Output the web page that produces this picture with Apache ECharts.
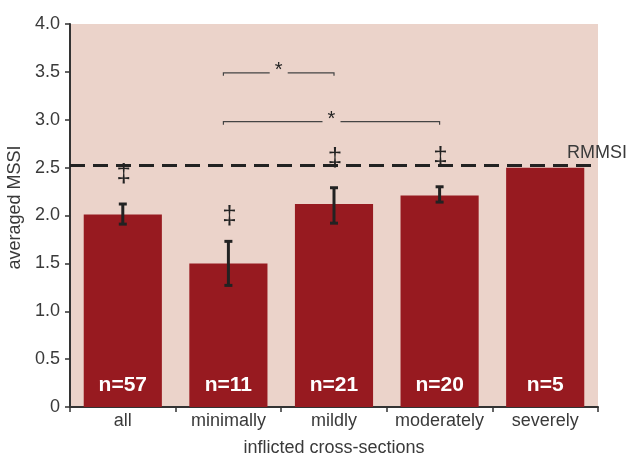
<!DOCTYPE html>
<html>
<head>
<meta charset="utf-8">
<script src="https://cdn.jsdelivr.net/npm/echarts@6/dist/echarts.min.js"></script>
<style>
  html, body { margin: 0; padding: 0; background: #fff; }
  #chart { width: 630px; height: 455px; }
</style>
</head>
<body>
<div id="chart"></div>
<script>
// data
const categories = ['all', 'minimally', 'mildly', 'moderately', 'severely'];
const meanMSSI = [2.01, 1.50, 2.12, 2.21, 2.50];
const errLow = [1.91, 1.27, 1.92, 2.14, null];
const errHigh = [2.12, 1.73, 2.29, 2.30, null];
const nLabels = ['n=57', 'n=11', 'n=21', 'n=20', 'n=5'];
const daggerY = [2.42, 1.99, 2.59, 2.60, null];
const rmmsi = 2.52;
// significance brackets: [from category, to category, y value]
const brackets = [[1, 2, 3.49], [1, 3, 2.98]];

const BAR = '#971a20';
const INK = '#222';
const TXT = '#3a3a3a';
const FONT = '"Liberation Sans", Arial, sans-serif';

const chart = echarts.init(document.getElementById('chart'), null, { renderer: 'canvas' });

const errData = [];
const dagData = [];
for (let i = 0; i < categories.length; i++) {
  if (errLow[i] != null) errData.push([i, errLow[i], errHigh[i]]);
  if (daggerY[i] != null) dagData.push([i, daggerY[i]]);
}

const option = {
  animation: false,
  grid: {
    left: 70, right: 32, top: 24, bottom: 48,
    outerBoundsMode: 'none',
    containLabel: false,
    show: true, backgroundColor: '#ebd3ca', borderWidth: 0
  },
  xAxis: {
    type: 'category',
    data: categories,
    name: 'inflicted cross-sections',
    nameLocation: 'middle',
    nameGap: 32,
    nameTextStyle: { fontFamily: FONT, fontSize: 18, color: TXT },
    axisLine: { lineStyle: { color: '#333', width: 2 } },
    axisTick: { show: true, length: 5, lineStyle: { color: '#333', width: 1.5 } },
    axisLabel: { fontFamily: FONT, fontSize: 18, color: TXT, margin: 5, interval: 0, hideOverlap: false }
  },
  yAxis: {
    type: 'value',
    min: 0, max: 4, interval: 0.5,
    name: 'averaged MSSI',
    nameLocation: 'middle',
    nameGap: 43,
    nameTextStyle: { fontFamily: FONT, fontSize: 18, color: TXT, padding: [0, 0, 0, 16] },
    axisLine: { show: true, lineStyle: { color: '#333', width: 2 } },
    axisTick: { show: true, length: 5, lineStyle: { color: '#333', width: 1.5 } },
    splitLine: { show: false },
    axisLabel: {
      fontFamily: FONT, fontSize: 18, color: TXT, margin: 10,
      formatter: v => (v === 0 ? '0' : v.toFixed(1))
    }
  },
  series: [
    {
      type: 'bar',
      data: meanMSSI,
      barWidth: '74%',
      itemStyle: { color: BAR },
      label: {
        show: true,
        position: 'insideBottom',
        distance: 11,
        formatter: p => nLabels[p.dataIndex],
        color: '#fff',
        fontFamily: '"Liberation Sans Narrow", "Liberation Sans", sans-serif',
        fontWeight: 'bold',
        fontSize: 21
      },
      markLine: {
        symbol: 'none',
        silent: true,
        lineStyle: { color: INK, type: [15, 8], width: 3 },
        label: {
          show: true,
          position: 'insideEndTop',
          formatter: 'RMMSI',
          fontFamily: FONT, fontSize: 18, color: TXT,
          offset: [34, 1]
        },
        data: [{ yAxis: rmmsi }]
      },
      z: 2
    },
    {
      type: 'custom',
      data: errData,
      encode: { x: 0, y: [1, 2] },
      z: 5,
      renderItem: function (params, api) {
        const lo = api.coord([api.value(0), api.value(1)]);
        const hi = api.coord([api.value(0), api.value(2)]);
        const cap = 4;
        const style = { stroke: INK, lineWidth: 3 };
        return {
          type: 'group',
          children: [
            { type: 'line', shape: { x1: lo[0], y1: lo[1], x2: hi[0], y2: hi[1] }, style: style },
            { type: 'line', shape: { x1: lo[0] - cap, y1: lo[1], x2: lo[0] + cap, y2: lo[1] }, style: style },
            { type: 'line', shape: { x1: hi[0] - cap, y1: hi[1], x2: hi[0] + cap, y2: hi[1] }, style: style }
          ]
        };
      }
    },
    {
      type: 'custom',
      data: dagData,
      encode: { x: 0, y: 1 },
      z: 6,
      renderItem: function (params, api) {
        const p = api.coord([api.value(0), api.value(1)]);
        return {
          type: 'text',
          style: {
            x: p[0] + 1, y: p[1],
            text: '‡',
            fill: INK,
            font: '26px ' + FONT,
            align: 'center', verticalAlign: 'middle'
          }
        };
      }
    },
    {
      type: 'custom',
      data: brackets,
      encode: { x: [0, 1], y: 2 },
      z: 6,
      renderItem: function (params, api) {
        const a = api.coord([api.value(0), api.value(2)]);
        const b = api.coord([api.value(1), api.value(2)]);
        const x1 = a[0] - 5, x2 = b[0], y = a[1];
        const mid = (x1 + x2) / 2;
        const gap = 9, drop = 3;
        const style = { stroke: '#444', lineWidth: 1.2, fill: null };
        return {
          type: 'group',
          children: [
            { type: 'polyline', shape: { points: [[x1, y + drop], [x1, y], [mid - gap, y]] }, style: style },
            { type: 'polyline', shape: { points: [[mid + gap, y], [x2, y], [x2, y + drop]] }, style: style },
            {
              type: 'text',
              style: {
                x: mid, y: y - 2,
                text: '*',
                fill: INK,
                font: '20px ' + FONT,
                align: 'center', verticalAlign: 'middle'
              }
            }
          ]
        };
      }
    }
  ]
};

chart.setOption(option);
</script>
</body>
</html>
